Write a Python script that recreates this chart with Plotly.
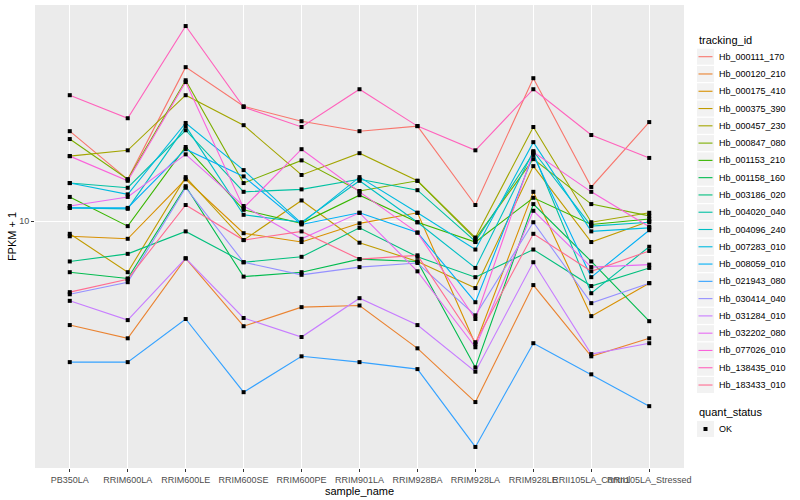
import plotly.graph_objects as go
import numpy as np

samples = ["PB350LA", "RRIM600LA", "RRIM600LE", "RRIM600SE", "RRIM600PE", "RRIM901LA",
           "RRIM928BA", "RRIM928LA", "RRIM928LE", "RRII105LA_Control", "RRII105LA_Stressed"]

tracking_ids = ["Hb_000111_170", "Hb_000120_210", "Hb_000175_410", "Hb_000375_390",
                "Hb_000457_230", "Hb_000847_080", "Hb_001153_210", "Hb_001158_160",
                "Hb_003186_020", "Hb_004020_040", "Hb_004096_240", "Hb_007283_010",
                "Hb_008059_010", "Hb_021943_080", "Hb_030414_040", "Hb_031284_010",
                "Hb_032202_080", "Hb_077026_010", "Hb_138435_010", "Hb_183433_010"]

colors = ["#F8766D", "#EA8331", "#D89000", "#C09B00", "#A3A500", "#7CAE00", "#39B600",
          "#00BB4E", "#00BF7D", "#00C1A3", "#00BFC4", "#00BAE0", "#00B0F6", "#35A2FF",
          "#9590FF", "#C77CFF", "#E76BF3", "#FA62DB", "#FF62BC", "#FF6C91"]

# FPKM + 1 per tracking id, in sample order
v_000111_170 = [22.9, 14.7, 41.3, 28.8, 25.1, 22.9, 24.0, 11.6, 37.3, 13.7, 24.9]
v_000120_210 = [3.84, 3.40, 7.1, 3.80, 4.53, 4.60, 3.10, 1.89, 5.55, 2.88, 3.40]
v_000175_410 = [8.7, 8.5, 14.7, 8.95, 8.25, 9.8, 10.8, 3.22, 13.1, 4.17, 5.65]
v_000375_390 = [8.9, 6.25, 15.0, 8.4, 12.1, 8.2, 6.9, 5.4, 16.6, 8.25, 10.0]
v_000457_230 = [18.2, 19.2, 31.9, 24.2, 15.3, 18.7, 14.5, 8.6, 23.8, 9.9, 10.8]
v_000847_080 = [21.3, 14.7, 36.6, 14.2, 17.5, 13.2, 14.5, 8.5, 17.7, 11.7, 10.5]
v_001153_210 = [12.5, 9.55, 19.8, 11.1, 9.8, 12.7, 9.9, 8.25, 12.4, 9.7, 10.2]
v_001158_160 = [6.25, 5.9, 13.8, 6.0, 6.25, 7.05, 6.9, 2.6, 11.7, 6.9, 3.98]
v_003186_020 = [6.9, 7.4, 9.1, 6.85, 7.2, 9.4, 7.2, 5.97, 7.7, 5.5, 6.5]
v_004020_040 = [14.2, 13.6, 23.1, 13.1, 13.4, 14.7, 13.3, 8.3, 18.7, 5.15, 7.9]
v_004096_240 = [11.3, 11.2, 24.0, 10.6, 9.9, 14.5, 9.9, 6.5, 19.05, 9.55, 9.9]
v_007283_010 = [14.2, 12.8, 24.7, 16.0, 9.8, 15.0, 10.8, 7.7, 20.7, 9.1, 9.4]
v_008059_010 = [11.3, 11.3, 19.4, 15.1, 9.7, 10.8, 9.0, 4.74, 18.4, 5.97, 9.2]
v_021943_080 = [2.73, 2.73, 4.06, 2.07, 2.88, 2.73, 2.56, 1.25, 3.25, 2.44, 1.82]
v_030414_040 = [5.1, 5.7, 13.6, 6.85, 6.1, 6.55, 6.8, 4.2, 9.9, 4.7, 5.65]
v_031284_010 = [4.8, 4.02, 7.1, 4.1, 3.44, 4.92, 3.84, 2.5, 6.85, 2.94, 3.25]
v_032202_080 = [11.5, 12.5, 18.5, 11.5, 8.5, 10.8, 6.3, 3.13, 11.0, 6.55, 6.7]
v_077026_010 = [18.2, 14.5, 36.0, 11.3, 19.4, 13.1, 9.0, 4.06, 18.9, 13.1, 9.5]
v_138435_010 = [31.9, 25.8, 60.3, 28.6, 23.8, 33.7, 24.0, 19.2, 33.7, 22.1, 17.9]
v_183433_010 = [5.2, 5.86, 11.6, 8.4, 9.1, 7.05, 7.3, 3.28, 8.9, 6.3, 7.6]

series = [v_000111_170, v_000120_210, v_000175_410, v_000375_390, v_000457_230,
          v_000847_080, v_001153_210, v_001158_160, v_003186_020, v_004020_040,
          v_004096_240, v_007283_010, v_008059_010, v_021943_080, v_030414_040,
          v_031284_010, v_032202_080, v_077026_010, v_138435_010, v_183433_010]

quant_status = ["OK"]
y_ticks = [10]

FONT = "Liberation Sans, Arial, sans-serif"

fig = go.Figure()
for name, col, vals in zip(tracking_ids, colors, series):
    fig.add_trace(go.Scatter(x=samples, y=vals, mode="lines", name=name,
                             line=dict(color=col, width=1.1), showlegend=False))

all_x = [s for vals in series for s in samples]
all_y = [v for vals in series for v in vals]
fig.add_trace(go.Scatter(x=all_x, y=all_y, mode="markers", name=quant_status[0],
                         marker=dict(symbol="square", size=4, color="black"),
                         showlegend=False))

lo = np.log10(min(all_y)); hi = np.log10(max(all_y))
pad = 0.05 * (hi - lo)

# plot area geometry (pixels)
W, H = 800, 500
L, R, T, B = 35, 116, 5, 32
pw, ph = W - L - R, H - T - B

def pxx(x):
    return (x - L) / pw

def pxy(y):
    return (H - B - y) / ph

shapes = []
annotations = []
# legend: tracking_id
annotations.append(dict(x=pxx(697), y=pxy(40.5), xref="paper", yref="paper",
                        text="tracking_id", showarrow=False, xanchor="left",
                        yanchor="middle", font=dict(size=11, color="black", family=FONT)))
for i, (name, col) in enumerate(zip(tracking_ids, colors)):
    c = 56.7 + 17.28 * i
    shapes.append(dict(type="rect", xref="paper", yref="paper",
                       x0=pxx(697), x1=pxx(714), y0=pxy(c + 8), y1=pxy(c - 8),
                       fillcolor="#F2F2F2", line=dict(width=0), layer="above"))
    shapes.append(dict(type="line", xref="paper", yref="paper",
                       x0=pxx(698.5), x1=pxx(712.5), y0=pxy(c), y1=pxy(c),
                       line=dict(color=col, width=1.1), layer="above"))
    annotations.append(dict(x=pxx(717), y=pxy(c), xref="paper", yref="paper",
                            text=name, showarrow=False, xanchor="left", yanchor="middle",
                            font=dict(size=9, color="black", family=FONT)))
# legend: quant_status
annotations.append(dict(x=pxx(697), y=pxy(412), xref="paper", yref="paper",
                        text="quant_status", showarrow=False, xanchor="left",
                        yanchor="middle", font=dict(size=11, color="black", family=FONT)))
c = 429
shapes.append(dict(type="rect", xref="paper", yref="paper",
                   x0=pxx(697), x1=pxx(714), y0=pxy(c + 8), y1=pxy(c - 8),
                   fillcolor="#F2F2F2", line=dict(width=0), layer="above"))
shapes.append(dict(type="rect", xref="paper", yref="paper",
                   x0=pxx(703.5), x1=pxx(707.5), y0=pxy(c + 2), y1=pxy(c - 2),
                   fillcolor="black", line=dict(width=0), layer="above"))
annotations.append(dict(x=pxx(717), y=pxy(c), xref="paper", yref="paper",
                        text=quant_status[0], showarrow=False, xanchor="left", yanchor="middle",
                        font=dict(size=9, color="black", family=FONT)))

fig.update_layout(
    width=W, height=H,
    margin=dict(l=L, r=R, t=T, b=B),
    paper_bgcolor="white", plot_bgcolor="#EBEBEB",
    font=dict(family=FONT, size=11, color="black"),
    showlegend=False,
    shapes=shapes, annotations=annotations,
    xaxis=dict(type="category", categoryorder="array", categoryarray=samples,
               range=[-0.6, len(samples) - 0.4], showgrid=True, gridcolor="white",
               gridwidth=1.1, zeroline=False, showline=False, ticks="outside",
               ticklen=3, tickwidth=1, tickcolor="#333333", tickangle=0,
               tickfont=dict(size=9, color="#4D4D4D", family=FONT),
               title=dict(text="sample_name", font=dict(size=11, color="black"), standoff=0),
               automargin=False),
    yaxis=dict(type="log", range=[lo - pad, hi + pad], tickvals=y_ticks,
               ticktext=[str(t) for t in y_ticks], showgrid=True, gridcolor="white",
               gridwidth=1.1, zeroline=False, showline=False, ticks="outside",
               ticklen=3, tickwidth=1, tickcolor="#333333",
               tickfont=dict(size=9, color="#4D4D4D", family=FONT),
               title=dict(text="FPKM + 1", font=dict(size=11, color="black"), standoff=0),
               automargin=False),
)

fig.write_html("out.html", config={"displayModeBar": False},
               post_script="document.body.style.margin='0';document.body.style.padding='0';")
